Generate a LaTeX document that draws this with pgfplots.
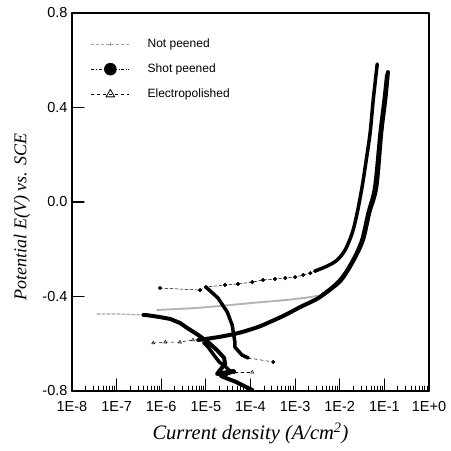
\documentclass[border=0pt]{standalone}
\usepackage{pgfplots}
\pgfplotsset{compat=1.18}
\usepackage{fontspec}
\setmainfont{Liberation Sans}
\newfontfamily\serifit{Liberation Serif}
\begin{document}
\begin{tikzpicture}
\begin{axis}[
  width=357pt, height=378pt, scale only axis,
  xmin=-8, xmax=0, ymin=-0.8, ymax=0.8,
  xtick={-8,-7,-6,-5,-4,-3,-2,-1,0},
  xticklabels={1E-8,1E-7,1E-6,1E-5,1E-4,1E-3,1E-2,1E-1,1E+0},
  ytick={-0.8,-0.4,0,0.4,0.8},
  yticklabels={-0.8,-0.4,0.0,0.4,0.8},
  minor xtick={-7.699,-7.523,-7.398,-7.301,-7.222,-7.155,-7.097,-7.046,
               -6.699,-6.523,-6.398,-6.301,-6.222,-6.155,-6.097,-6.046,
               -5.699,-5.523,-5.398,-5.301,-5.222,-5.155,-5.097,-5.046,
               -4.699,-4.523,-4.398,-4.301,-4.222,-4.155,-4.097,-4.046,
               -3.699,-3.523,-3.398,-3.301,-3.222,-3.155,-3.097,-3.046,
               -2.699,-2.523,-2.398,-2.301,-2.222,-2.155,-2.097,-2.046,
               -1.699,-1.523,-1.398,-1.301,-1.222,-1.155,-1.097,-1.046,
               -0.699,-0.523,-0.398,-0.301,-0.222,-0.155,-0.097,-0.046},
  xtick pos=left, ytick pos=left,
  tick align=inside,
  major tick length=12pt, minor tick length=5pt,
  major tick style={black, line width=1.2pt},
  minor tick style={black, line width=0.8pt},
  axis line style={line width=1.3pt},
  ticklabel style={font=\fontsize{14.5}{16}\selectfont},
  xticklabel style={yshift=-7pt},
  yticklabel style={xshift=-1pt},
  xlabel={Current density (A/cm\textsuperscript{2})},
  ylabel={Potential E(V) vs. SCE},
  xlabel style={font=\serifit\itshape\fontsize{20.5}{24}\selectfont, at={(axis description cs:0.5,-0.112)}, anchor=center},
  ylabel style={font=\serifit\itshape\fontsize{18}{22}\selectfont, at={(axis description cs:-0.14,0.46)}, anchor=center},
  legend style={at={(axis description cs:0.05,0.94)}, anchor=north west, draw=none, fill=none,
    font=\fontsize{12}{14}\selectfont, row sep=11pt, inner sep=1pt},
  legend cell align=left,
  legend image code/.code={\draw[mark repeat=2,mark phase=2,#1] plot coordinates {(0pt,0pt) (19pt,0pt) (38pt,0pt)};\path (54pt,0pt);},
  line cap=round, line join=round,
]
\addlegendimage{gray!70, densely dashed, line width=0.6pt, mark=+, mark size=2pt, mark options={solid}}
\addlegendentry{Not peened}
\addlegendimage{black, dash dot, line width=0.5pt, mark=*, mark size=6pt, mark options={solid}}
\addlegendentry{Shot peened}
\addlegendimage{black, dashed, line width=0.5pt, mark=triangle, mark size=5pt, mark options={solid, line width=0.8pt}}
\addlegendentry{Electropolished}

% ---- Not peened ----
\addplot[gray!70, line width=1.2pt, densely dashed, forget plot] coordinates {
 (-7.44,-0.474) (-6.90,-0.474) (-6.475,-0.478)};
\addplot[gray!60, line width=2pt, dash pattern=on 1.5pt off 1pt, forget plot] coordinates {
 (-6.09,-0.457) (-5.24,-0.449) (-4.68,-0.440) (-4.01,-0.428) (-3.22,-0.415) (-2.78,-0.406) (-2.39,-0.394)};
\addplot[black, line width=4pt, forget plot] coordinates {
 (-6.40,-0.478) (-6.32,-0.479) (-6.03,-0.487) (-5.80,-0.495) (-5.58,-0.512) (-5.42,-0.533)
 (-5.17,-0.563) (-4.95,-0.593) (-4.75,-0.627) (-4.59,-0.660) (-4.57,-0.686) (-4.68,-0.711)
 (-4.75,-0.728) (-4.37,-0.715) (-4.66,-0.737) (-4.32,-0.762) (-3.96,-0.796)};
\addplot[black, line width=4pt, smooth, forget plot] coordinates {
 (-2.39,-0.394) (-1.99,-0.335) (-1.70,-0.250) (-1.48,-0.161) (-1.34,-0.047) (-1.18,0.063)
 (-1.07,0.292) (-0.98,0.432) (-0.92,0.550)};

% ---- Electropolished ----
\addplot[black, line width=0.5pt, dashed, mark=triangle, mark size=1.8pt, mark options={solid}, forget plot] coordinates {
 (-6.18,-0.597) (-5.91,-0.593) (-5.58,-0.593) (-5.29,-0.584) (-5.17,-0.584)};
\addplot[black, line width=4pt, smooth, forget plot] coordinates {
 (-5.17,-0.584) (-4.73,-0.572) (-4.28,-0.555) (-3.83,-0.529) (-3.52,-0.504) (-3.22,-0.478)
 (-2.89,-0.445) (-2.44,-0.402) (-1.99,-0.330) (-1.70,-0.246) (-1.50,-0.161) (-1.36,-0.047)
 (-1.21,0.063) (-1.09,0.292) (-1.00,0.432) (-0.94,0.538)};
\addplot[black, line width=3.5pt, forget plot] coordinates {
 (-5.05,-0.595) (-4.95,-0.614) (-4.82,-0.648) (-4.70,-0.677) (-4.55,-0.699) (-4.46,-0.715) (-4.35,-0.720)};
\addplot[black, line width=0.5pt, dashed, mark=triangle, mark size=1.8pt, mark options={solid}, mark indices={2}, forget plot] coordinates {
 (-4.35,-0.720) (-3.96,-0.720)};

% ---- Shot peened ----
\addplot[black, line width=0.5pt, densely dashed, mark=*, mark size=1.8pt, mark options={solid}, forget plot] coordinates {
 (-6.03,-0.364) (-5.13,-0.373) (-5.00,-0.360) (-4.57,-0.351) (-4.28,-0.347) (-3.96,-0.339)
 (-3.72,-0.330) (-3.45,-0.326) (-3.22,-0.322) (-3.00,-0.318) (-2.82,-0.309) (-2.66,-0.301) (-2.55,-0.292)};
\addplot[black, line width=3.5pt, smooth, forget plot] coordinates {
 (-2.55,-0.292) (-2.28,-0.271) (-2.06,-0.246) (-1.88,-0.203) (-1.72,-0.131) (-1.61,-0.047)
 (-1.50,0.063) (-1.43,0.148) (-1.32,0.292) (-1.25,0.432) (-1.16,0.584)};
\addplot[black, line width=3.5pt, forget plot] coordinates {
 (-5.00,-0.360) (-4.73,-0.406) (-4.52,-0.466) (-4.41,-0.521) (-4.35,-0.593) (-4.35,-0.614)
 (-4.19,-0.648) (-4.05,-0.660)};
\addplot[black, line width=0.5pt, dashed, mark=*, mark size=1.8pt, mark options={solid}, mark indices={2}, forget plot] coordinates {
 (-4.05,-0.660) (-3.49,-0.677)};
\end{axis}
\pgfresetboundingbox
\path ([shift={(-72pt,-59pt)}]current axis.south west) rectangle ([shift={(22pt,13pt)}]current axis.north east);
\end{tikzpicture}
\end{document}
